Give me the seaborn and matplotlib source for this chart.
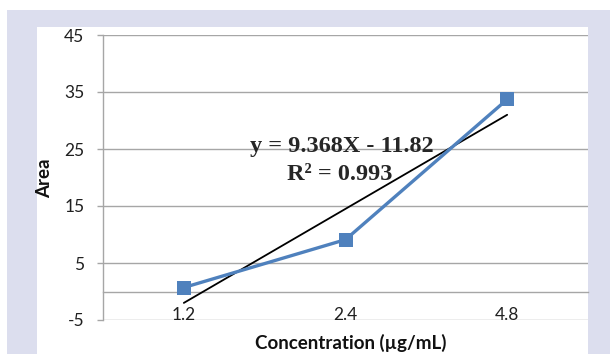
import matplotlib
matplotlib.use("Agg")
import matplotlib.pyplot as plt
from matplotlib.patches import Rectangle
import seaborn as sns
import pandas as pd

# data
concentrations = ["1.2", "2.4", "4.8"]
areas = [0.7, 9.1, 33.7]
y_ticks = [-5, 5, 15, 25, 35, 45]
equation = "y = 9.368X - 11.82"
r_squared = "R\u00b2 = 0.993"

sns.set_theme(style="white")
plt.rcParams["font.family"] = ["Lato", "DejaVu Sans"]
plt.rcParams["axes.unicode_minus"] = False

df = pd.DataFrame({"pos": range(len(concentrations)), "area": areas})

fig = plt.figure(figsize=(6.1, 3.54), dpi=100, facecolor="white")
# lavender frame + white panel behind the chart
fig.patches.append(Rectangle((7 / 610, 0), 1, 1 - 10 / 354, transform=fig.transFigure,
                             facecolor="#dcdeee", edgecolor="none", zorder=-2))
fig.patches.append(Rectangle((37 / 610, 0), (588 - 37) / 610, 1 - 27 / 354,
                             transform=fig.transFigure, facecolor="white",
                             edgecolor="none", zorder=-1))

ax = fig.add_axes([103 / 610, 1 - 320 / 354, (588 - 103) / 610, (320 - 35) / 354])
ax.set_facecolor("none")

grid_c = "#a6a6a6"
ax.set_ylim(-5, 45)
ax.set_xlim(-0.5, len(concentrations) - 0.5)
ax.set_yticks(y_ticks)
for v in y_ticks:
    ax.axhline(v, color=grid_c, lw=1.0, zorder=0)

# trendline (least squares on category positions) and the data series
sns.regplot(data=df, x="pos", y="area", scatter=False, ci=None, ax=ax,
            line_kws=dict(color="black", lw=1.3, zorder=3))
sns.lineplot(data=df, x="pos", y="area", ax=ax, color="#4f81bd", lw=2.4,
             marker="s", markersize=10.5, markeredgewidth=0, zorder=4)

# axes styling, Excel look: category axis crossing at 0
for s in ["top", "right"]:
    ax.spines[s].set_visible(False)
ax.spines["left"].set_color(grid_c)
ax.spines["bottom"].set_color(grid_c)
ax.spines["bottom"].set_position(("data", 0))
ax.spines["left"].set_linewidth(1.0)
ax.spines["bottom"].set_linewidth(1.0)

ax.set_xticks(range(len(concentrations)))
ax.set_xticklabels(concentrations)
ax.set_xticks([0.5, 1.5, 2.5], minor=True)
ax.tick_params(axis="x", which="major", length=0, pad=11, labelsize=12.5, colors="#202020")
ax.tick_params(axis="x", which="minor", length=4.5, width=1.0, color=grid_c, direction="out")
ax.tick_params(axis="y", length=4.5, width=1.0, color=grid_c, pad=9, labelsize=12.5,
               labelcolor="#202020", left=True)

ax.set_xlabel("")
ax.set_ylabel("")
fig.text(45 / 610, 1 - 178 / 354, "Area", rotation=90, ha="center", va="center",
         fontsize=13.5, fontweight="bold", color="#111111")
fig.text(351 / 610, 1 - 343 / 354, "Concentration (\u00b5g/mL)", ha="center", va="center",
         fontsize=13.5, fontweight="bold", color="#111111")

serif = ["Liberation Serif", "DejaVu Serif"]
ax.text(0.975, 25.4, equation, ha="center", va="center", fontsize=17.5,
        fontweight="bold", family=serif, zorder=5)
ax.text(0.963, 20.5, r_squared, ha="center", va="center", fontsize=17.5,
        fontweight="bold", family=serif, zorder=5)

fig.savefig("out.png", dpi=100, facecolor="white")
